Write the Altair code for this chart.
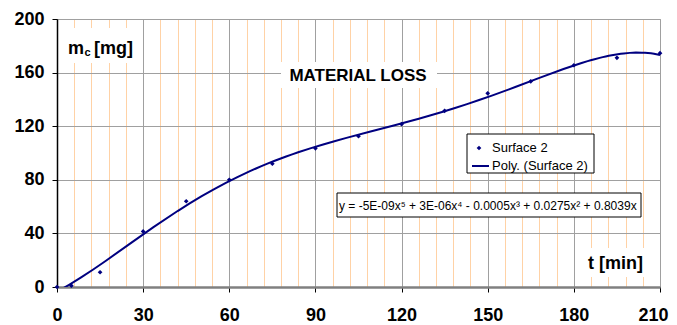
import altair as alt
import pandas as pd

# ---- data ----
t_min = [0, 5, 15, 30, 45, 60, 75, 90, 105, 120, 135, 150, 165, 180, 195, 210]
mass_mg = [0, 1, 11, 41.5, 64, 80, 92, 103.5, 112.5, 121.5, 131.5, 144.5, 153.5, 165.5, 171, 174.5]
x_tick_values = list(range(0, 211, 6))
y_tick_values = [0, 40, 80, 120, 160, 200]
series_name = "Surface 2"
trend_name = "Poly. (Surface 2)"
title_text = "MATERIAL LOSS"
y_label_main = "m"
y_label_sub = "c"
y_label_unit = "[mg]"
x_label_text = "t [min]"
equation_text = "y = -5E-09x⁵ + 3E-06x⁴ - 0.0005x³ + 0.0275x² + 0.8039x"

FONT = "Liberation Sans"
NAVY = "#000080"
GRAY = "#A0A0A0"
ORANGE = "#FFD2A6"

df = pd.DataFrame({"t": t_min, "m": mass_mg})
one = pd.DataFrame({"k": [0]})

xscale = alt.Scale(domain=[0, 210], nice=False, zero=False)
yscale = alt.Scale(domain=[0, 200], nice=False)

is30 = "datum.value % 30 === 0"

x_axis = alt.Axis(
    values=x_tick_values,
    tickCount=len(x_tick_values) + 10,
    labelOverlap=False,
    title=None,
    grid=True,
    gridColor={"condition": {"test": is30, "value": GRAY}, "value": ORANGE},
    gridWidth=1,
    labelExpr=f"{is30} ? datum.label : ''",
    labelOffset={"condition": {"test": "datum.value === 210", "value": -7}, "value": 0},
    tickColor={"condition": {"test": is30, "value": "black"}, "value": "transparent"},
    tickSize=5,
    domainColor="#808080",
    domainWidth=2.5,
    labelPadding=14,
    labelFlush=False,
)
y_axis = alt.Axis(
    values=y_tick_values,
    tickCount=len(y_tick_values) + 5,
    labelOverlap=False,
    title=None,
    grid=True,
    gridColor=GRAY,
    gridWidth=1,
    tickColor="black",
    tickSize=5,
    domainColor="black",
    domainWidth=1.5,
    labelPadding=8,
)

base_grid = alt.Chart(df).mark_point(opacity=0).encode(
    x=alt.X("t:Q", scale=xscale, axis=x_axis),
    y=alt.Y("m:Q", scale=yscale, axis=y_axis),
)


def box(x1, x2, y1, y2, stroke=None):
    kw = dict(fill="white")
    if stroke:
        kw.update(stroke=stroke, strokeWidth=1)
    else:
        kw.update(strokeWidth=0)
    return alt.Chart(one).mark_rect(**kw).encode(
        x=alt.value(x1), x2=alt.value(x2), y=alt.value(y1), y2=alt.value(y2)
    )


def label(txt, x, y, size, bold=True, align="left"):
    return alt.Chart(one).mark_text(
        align=align, baseline="alphabetic", font=FONT, fontSize=size,
        fontWeight="bold" if bold else "normal", color="black",
    ).encode(x=alt.value(x), y=alt.value(y), text=alt.value(txt))


fit = alt.Chart(df).transform_regression(
    "t", "m", method="poly", order=5
).mark_line(color=NAVY, strokeWidth=2, clip=True).encode(
    x=alt.X("t:Q", scale=xscale), y=alt.Y("m:Q", scale=yscale)
)

points = alt.Chart(df).mark_point(
    shape="diamond", filled=True, color=NAVY, size=22, opacity=1
).encode(x=alt.X("t:Q", scale=xscale), y=alt.Y("m:Q", scale=yscale))

layers = [
    base_grid,
    box(3, 85, 9, 44),
    label(y_label_main, 11, 35, 18),
    label(y_label_sub, 27.5, 37, 11),
    label(y_label_unit, 37, 35, 18),
    box(224, 380, 43, 69),
    label(title_text, 301, 62, 17, align="center"),
    box(523, 598, 229, 258),
    label(x_label_text, 531, 250, 18),
    box(410, 537, 115, 154, stroke="black"),
    alt.Chart(one).mark_point(shape="diamond", filled=True, color=NAVY, size=22, opacity=1).encode(
        x=alt.value(422), y=alt.value(129)
    ),
    label(series_name, 435, 133, 13, bold=False),
    alt.Chart(one).mark_rule(color=NAVY, strokeWidth=2).encode(
        x=alt.value(415), x2=alt.value(432), y=alt.value(147)
    ),
    label(trend_name, 435, 151, 13, bold=False),
    box(280, 584, 174, 198, stroke="black"),
    label(equation_text, 282, 190.5, 12, bold=False),
    fit,
    points,
]

chart = alt.layer(*layers).properties(
    width=603,
    height=268,
    autosize=alt.AutoSizeParams(type="none"),
    padding={"left": 49, "top": 11, "right": 9, "bottom": 38},
).configure_view(stroke=GRAY, strokeWidth=1).configure_axis(
    labelFont=FONT, labelFontSize=18, labelFontWeight="bold", labelColor="black"
)

chart.save("out.html", embed_options={"renderer": "svg", "actions": False})
